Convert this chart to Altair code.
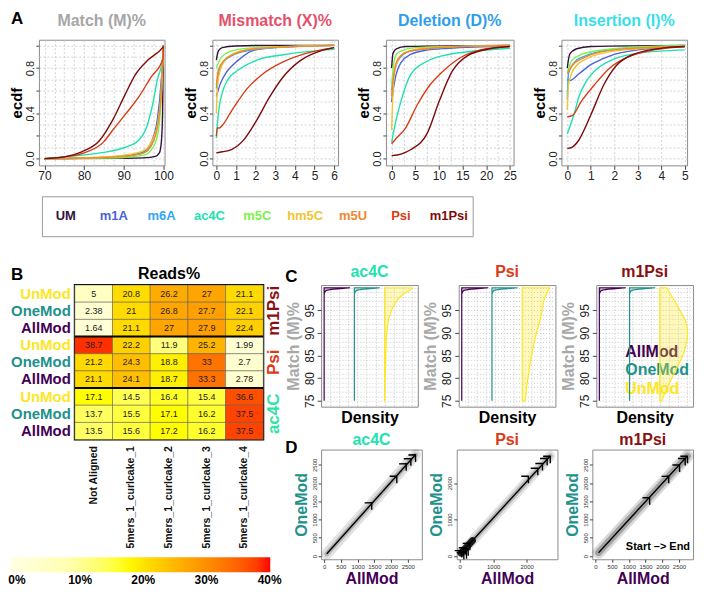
import json
import altair as alt
import pandas as pd

FONT = "Liberation Sans"

# ---------------- shared categories / colours ----------------
mods = ["UM", "m1A", "m6A", "ac4C", "m5C", "hm5C", "m5U", "Psi", "m1Psi"]
mod_colors = ["#30123b", "#4a64d9", "#33a6f4", "#1de2b0", "#7cf24a", "#f0c530", "#f5862b", "#d93b17", "#7d0b0b"]

status = ["UnMod", "OneMod", "AllMod"]
status_colors = ["#fde725", "#21918c", "#440154"]

# ---------------- A: ECDF curves (x, ecdf) ----------------
match_x = {
    "UM": [70, 90, 95, 98, 99, 99.5, 99.8, 100],
    "m1A": [70, 85, 90, 95, 97, 98.5, 99.5, 100],
    "m6A": [70, 85, 90, 95, 97, 98.5, 99.5, 100],
    "ac4C": [70, 76, 84, 90.4, 93.7, 95.7, 97.3, 98.5, 99.8, 100],
    "m5C": [70, 85, 90, 95, 97, 98.5, 99.5, 100],
    "hm5C": [70, 85, 90, 95, 97, 98.5, 99.5, 100],
    "m5U": [70, 85, 90, 95, 97, 98.5, 99.5, 100],
    "Psi": [70, 75, 80, 85, 87.2, 90.4, 93.7, 96.9, 99.9, 100],
    "m1Psi": [70, 75, 79.4, 83.9, 87.2, 90.4, 92.9, 96.1, 99.8, 100],
}
match_y = {
    "UM": [0, 0.003, 0.006, 0.02, 0.05, 0.15, 0.4, 1.0],
    "m1A": [0, 0.01, 0.02, 0.06, 0.15, 0.35, 0.7, 1.0],
    "m6A": [0, 0.01, 0.02, 0.05, 0.12, 0.3, 0.65, 1.0],
    "ac4C": [0, 0.02, 0.05, 0.1, 0.16, 0.27, 0.48, 0.7, 0.87, 1.0],
    "m5C": [0, 0.005, 0.01, 0.03, 0.08, 0.2, 0.55, 1.0],
    "hm5C": [0, 0.015, 0.03, 0.07, 0.15, 0.3, 0.6, 1.0],
    "m5U": [0, 0.01, 0.02, 0.05, 0.12, 0.28, 0.6, 1.0],
    "Psi": [0, 0.015, 0.05, 0.15, 0.25, 0.39, 0.54, 0.72, 0.88, 1.0],
    "m1Psi": [0, 0.015, 0.06, 0.16, 0.34, 0.57, 0.74, 0.87, 0.98, 0.99],
}
mis_x = {
    "UM": [0, 0.1, 0.3, 1, 2, 6],
    "m1A": [0, 0.2, 0.5, 0.8, 1.26, 1.73, 2.5, 6],
    "m6A": [0, 0.15, 0.4, 0.8, 1.5, 3, 6],
    "ac4C": [0, 0.05, 0.15, 0.3, 0.6, 1.1, 2.06, 3.5, 6],
    "m5C": [0, 0.2, 0.5, 1, 2, 6],
    "hm5C": [0, 0.05, 0.15, 0.4, 0.8, 1.5, 3, 6],
    "m5U": [0, 0.1, 0.4, 1, 2, 6],
    "Psi": [0, 0.05, 0.15, 0.29, 0.77, 1.58, 2.38, 3.35, 4.48, 6],
    "m1Psi": [0, 0.3, 0.77, 1.42, 2.06, 2.7, 3.35, 4.31, 5.28, 6],
}
mis_y = {
    "UM": [0.87, 0.95, 0.98, 0.995, 0.999, 1.0],
    "m1A": [0.55, 0.66, 0.76, 0.82, 0.89, 0.945, 0.975, 1.0],
    "m6A": [0.62, 0.78, 0.86, 0.91, 0.95, 0.98, 1.0],
    "ac4C": [0.18, 0.3, 0.46, 0.58, 0.7, 0.78, 0.87, 0.92, 0.965],
    "m5C": [0.8, 0.88, 0.93, 0.96, 0.98, 1.0],
    "hm5C": [0.4, 0.62, 0.75, 0.86, 0.92, 0.96, 0.985, 1.0],
    "m5U": [0.65, 0.78, 0.87, 0.93, 0.97, 1.0],
    "Psi": [0.2, 0.27, 0.27, 0.29, 0.42, 0.62, 0.75, 0.85, 0.925, 0.98],
    "m1Psi": [0.05, 0.06, 0.08, 0.17, 0.34, 0.54, 0.71, 0.87, 0.95, 0.98],
}
del_x = {
    "UM": [0, 0.3, 1, 3, 25],
    "m1A": [0, 0.5, 1, 2, 4, 7, 12, 25],
    "m6A": [0, 0.5, 1, 2, 4, 10, 25],
    "ac4C": [0, 0.5, 1, 2, 4, 7.5, 12, 17.5, 25],
    "m5C": [0, 0.5, 1, 2, 5, 25],
    "hm5C": [0, 0.3, 0.7, 1.5, 3, 8, 25],
    "m5U": [0, 0.5, 1, 2, 4, 10, 25],
    "Psi": [0, 1, 2.8, 5.5, 8.1, 10.8, 14.1, 18.8, 25],
    "m1Psi": [0, 2, 4.1, 7.5, 10.1, 12.8, 16.1, 20.8, 25],
}
del_y = {
    "UM": [0.8, 0.93, 0.97, 0.99, 1.0],
    "m1A": [0.5, 0.65, 0.75, 0.85, 0.92, 0.955, 0.975, 0.995],
    "m6A": [0.6, 0.75, 0.83, 0.9, 0.95, 0.98, 1.0],
    "ac4C": [0.14, 0.25, 0.35, 0.51, 0.74, 0.86, 0.92, 0.95, 0.975],
    "m5C": [0.65, 0.85, 0.92, 0.95, 0.98, 1.0],
    "hm5C": [0.25, 0.6, 0.78, 0.88, 0.94, 0.98, 1.0],
    "m5U": [0.55, 0.75, 0.85, 0.91, 0.95, 0.98, 1.0],
    "Psi": [0.13, 0.18, 0.26, 0.48, 0.65, 0.77, 0.88, 0.96, 0.99],
    "m1Psi": [0.026, 0.04, 0.08, 0.22, 0.51, 0.77, 0.91, 0.97, 0.99],
}
ins_x = {
    "UM": [0, 0.1, 0.4, 1, 5],
    "m1A": [0, 0.1, 0.5, 1, 1.5, 2, 3, 5],
    "m6A": [0, 0.05, 0.3, 0.8, 1.5, 3, 5],
    "ac4C": [0, 0.3, 0.5, 0.8, 1.2, 2, 3, 5],
    "m5C": [0, 0.2, 0.6, 1.2, 2.5, 5],
    "hm5C": [0, 0.05, 0.3, 0.8, 1.5, 3, 5],
    "m5U": [0, 0.2, 0.6, 1.2, 2.5, 5],
    "Psi": [0, 0.21, 0.61, 1.15, 1.81, 2.61, 3.68, 5],
    "m1Psi": [0, 0.2, 0.48, 1.01, 1.55, 2.08, 2.88, 4.21, 5],
}
ins_y = {
    "UM": [0.8, 0.92, 0.97, 0.99, 1.0],
    "m1A": [0.7, 0.69, 0.75, 0.83, 0.88, 0.92, 0.96, 0.99],
    "m6A": [0.52, 0.75, 0.85, 0.91, 0.95, 0.98, 1.0],
    "ac4C": [0.22, 0.4, 0.55, 0.68, 0.78, 0.88, 0.93, 0.96],
    "m5C": [0.76, 0.87, 0.92, 0.95, 0.98, 1.0],
    "hm5C": [0.43, 0.65, 0.8, 0.88, 0.93, 0.97, 0.99],
    "m5U": [0.75, 0.82, 0.88, 0.93, 0.97, 0.99],
    "Psi": [0.37, 0.38, 0.51, 0.65, 0.8, 0.9, 0.96, 0.99],
    "m1Psi": [0.09, 0.1, 0.16, 0.39, 0.65, 0.82, 0.925, 0.98, 0.99],
}

# ---------------- B: reads % heat-map ----------------
hm_cols = ["Not Aligned", "5mers_1_curlcake_1", "5mers_1_curlcake_2",
           "5mers_1_curlcake_3", "5mers_1_curlcake_4"]
hm_groups = ["m1Psi", "Psi", "ac4C"]
hm_group_colors = ["#8b0f0f", "#dc3a17", "#2fe3a2"]
reads_m1Psi = [[5, 20.8, 26.2, 27, 21.1], [2.38, 21, 26.8, 27.7, 22.1], [1.64, 21.1, 27, 27.9, 22.4]]
reads_Psi = [[38.7, 22.2, 11.9, 25.2, 1.99], [21.2, 24.3, 18.8, 33, 2.7], [21.1, 24.1, 18.7, 33.3, 2.78]]
reads_ac4C = [[17.1, 14.5, 16.4, 15.4, 36.6], [13.7, 15.5, 17.1, 16.2, 37.5], [13.5, 15.6, 17.2, 16.2, 37.5]]
heat_stops = [-1.1, 8, 17, 27, 40.1]
heat_colors = ["#ffffe6", "#ffffb0", "#ffff00", "#ffa500", "#ff0000"]
heat_ticks = [0, 10, 20, 30, 40]

# ---------------- C: density of Match % (y, density offset) ----------------
dens_ac4C = {
    "AllMod": ([75, 98.5, 99.3, 99.7, 99.9, 100], [0, 0.0, 0.05, 0.3, 0.7, 0.86]),
    "OneMod": ([75, 98.5, 99.3, 99.7, 99.9, 100], [0, 0.0, 0.05, 0.3, 0.7, 0.84]),
    "UnMod": ([75, 80, 85, 90, 92.8, 95.7, 98.5, 99.8, 100], [0.01, 0.02, 0.04, 0.07, 0.13, 0.28, 0.6, 0.89, 0.9]),
}
dens_Psi = {
    "AllMod": ([75, 98.5, 99.3, 99.7, 99.9, 100], [0, 0.0, 0.05, 0.3, 0.7, 0.88]),
    "OneMod": ([75, 98.5, 99.3, 99.7, 99.9, 100], [0, 0.0, 0.05, 0.3, 0.7, 0.85]),
    "UnMod": ([75, 78, 81, 84, 87, 90, 92.6, 95, 97.6, 99.3, 100],
              [0.1, 0.15, 0.21, 0.28, 0.37, 0.47, 0.58, 0.66, 0.74, 0.86, 0.9]),
}
dens_m1Psi = {
    "AllMod": ([75, 98.5, 99.3, 99.7, 99.9, 100], [0, 0.0, 0.05, 0.3, 0.7, 0.88]),
    "OneMod": ([75, 98.5, 99.3, 99.7, 99.9, 100], [0, 0.0, 0.05, 0.3, 0.7, 0.85]),
    "UnMod": ([75, 77.7, 80, 82.8, 85, 87.5, 90, 92.5, 95, 97, 98.5, 100],
              [0.07, 0.23, 0.4, 0.6, 0.76, 0.87, 0.92, 0.86, 0.66, 0.5, 0.36, 0.23]),
}

# ---------------- D: AllMod vs OneMod trajectories ----------------
traj_ac4C = {"start": (80, 60), "end": (2730, 2776),
             "hx": [1420, 2170, 2450, 2590, 2730], "hy": [1460, 2190, 2530, 2670, 2776]}
traj_Psi = {"start": (60, 100), "end": (2704, 2741),
            "hx": [60, 120, 180, 250, 300, 200, 2050, 2330, 2470, 2610, 2704],
            "hy": [150, 100, 230, 200, 350, 120, 2190, 2410, 2540, 2680, 2741]}
traj_m1Psi = {"start": (95, 91), "end": (2752, 2741),
              "hx": [1620, 2190, 2514, 2682, 2752], "hy": [1600, 2187, 2500, 2677, 2741]}
psi_blob_x = [40, 380]
psi_blob_y = [80, 420]

one = pd.DataFrame({"k": [0]})


def cond(vals):
    return "indexof(%s, datum.value) >= 0" % json.dumps(vals)


def txt(text, x, y, size, color, align="center", baseline="alphabetic", angle=None, weight="bold"):
    kw = dict(text=text, fontSize=size, fontWeight=weight, color=color, align=align, baseline=baseline)
    if angle is not None:
        kw["angle"] = angle
    return alt.Chart(one).mark_text(**kw).encode(x=alt.value(x), y=alt.value(y))


def anchor(x1, x2, y1, y2):
    # invisible box that fixes the layout bounds of a panel
    return alt.Chart(one).mark_rect(opacity=0).encode(
        x=alt.value(x1), x2=alt.value(x2), y=alt.value(y1), y2=alt.value(y2))


def margin():
    return anchor(0, 1, 0, 1).properties(width=1, height=1, view=alt.ViewBackground(strokeOpacity=0))


# ================= A panels =================
ECDF_H = 126
ecdf_ydom = [-0.06, 1.05]
ecdf_ygrid = [0, 0.1, 0.2, 0.3, 0.4, 0.5, 0.6, 0.7, 0.8, 0.9, 1.0]
ecdf_ylabs = [0, 0.4, 0.8]
ecdf_yticks = [0, 0.2, 0.4, 0.6, 0.8, 1.0]


def ecdf_panel(title, tcolor, xs, ys, xdom, xgrid, xlabs, w, extra=()):
    rows = []
    for k, m in enumerate(mods):
        for a, b in zip(xs[m], ys[m]):
            rows.append({"mod": m, "k": k, "x": a, "y": b})
    df = pd.DataFrame(rows)
    xt = cond(xlabs)
    lines = alt.Chart(df).mark_line(interpolate="monotone", strokeWidth=1.4, clip=True).encode(
        x=alt.X("x:Q", scale=alt.Scale(domain=xdom, nice=False, zero=False),
                axis=alt.Axis(values=xgrid, format="d", labelExpr="%s ? datum.label : ''" % xt,
                              grid=True, gridDash=[2, 2], gridColor="#c8c8c8", gridWidth=0.8,
                              domain=False, tickSize=4, tickColor="#444",
                              tickOpacity={"condition": {"test": xt, "value": 1}, "value": 0},
                              labelFontSize=12, labelColor="#222", labelPadding=1,
                              labelOverlap=False, labelFlush=False, title=None)),
        y=alt.Y("y:Q", scale=alt.Scale(domain=ecdf_ydom, nice=False, zero=False),
                axis=alt.Axis(values=ecdf_ygrid, format=".1f",
                              labelExpr="%s ? datum.label : ''" % cond(ecdf_ylabs),
                              grid=True, gridDash=[2, 2], gridColor="#c8c8c8", gridWidth=0.8,
                              domain=False, tickSize=3, tickColor="#444",
                              tickOpacity={"condition": {"test": cond(ecdf_yticks), "value": 1}, "value": 0},
                              labelAngle=270, labelAlign="center", labelBaseline="bottom",
                              labelFontSize=11, labelColor="#222", labelPadding=0,
                              labelOverlap=False, labelFlush=False,
                              title="ecdf", titleFontSize=15, titleFontWeight="bold",
                              titleColor="black", titlePadding=0)),
        color=alt.Color("mod:N", scale=alt.Scale(domain=mods, range=mod_colors), legend=None),
    )
    layers = list(extra) + [lines, txt(title, w / 2, -14, 16, tcolor)]
    return alt.layer(*layers).properties(width=w, height=ECDF_H)


pA1 = ecdf_panel("Match (M)%", "#a6a6a6", match_x, match_y, [68.6, 100.3],
                 [70, 72.5, 75, 77.5, 80, 82.5, 85, 87.5, 90, 92.5, 95, 97.5, 100], [70, 80, 90, 100], 126,
                 extra=[anchor(-28, 0, -30, 144), txt("A", -28, -16, 17, "black", align="left")])
pA2 = ecdf_panel("Mismatch (X)%", "#e5506a", mis_x, mis_y, [-0.2, 6.2],
                 [0, 0.5, 1, 1.5, 2, 2.5, 3, 3.5, 4, 4.5, 5, 5.5, 6], [0, 1, 2, 3, 4, 5, 6], 126)
pA3 = ecdf_panel("Deletion (D)%", "#2f9eea", del_x, del_y, [-1.2, 25.8],
                 [0, 2.5, 5, 7.5, 10, 12.5, 15, 17.5, 20, 22.5, 25], [0, 5, 10, 15, 20, 25], 128)
pA4 = ecdf_panel("Insertion (I)%", "#38dfea", ins_x, ins_y, [-0.25, 5.1],
                 [0, 0.5, 1, 1.5, 2, 2.5, 3, 3.5, 4, 4.5, 5], [0, 1, 2, 3, 4, 5], 126)
rowA = alt.hconcat(margin(), alt.hconcat(pA1, pA2, pA3, pA4, spacing=48, bounds="flush"), spacing=0)

# ================= modification legend box =================
leg_df = pd.DataFrame({"mod": mods})
legend_box = alt.layer(
    anchor(-32, 0, -11, 57),
    alt.Chart(leg_df).mark_text(fontSize=13, fontWeight="bold", baseline="middle").encode(
        x=alt.X("mod:N", sort=mods, scale=alt.Scale(type="point", domain=mods, padding=0.5), axis=None),
        y=alt.value(20),
        color=alt.Color("mod:N", scale=alt.Scale(domain=mods, range=mod_colors), legend=None),
        text="mod:N"),
).properties(width=432, height=40, view=alt.ViewBackground(stroke="#9a9a9a", strokeWidth=1))
rowLegend = alt.hconcat(margin(), legend_box, spacing=0)

# ================= B heat-map =================
HM_W, HM_H = 189, 155
rowkeys = []
hrows = []
for g, mat in zip(hm_groups, [reads_m1Psi, reads_Psi, reads_ac4C]):
    for s, vals in zip(status, mat):
        key = g + "|" + s
        rowkeys.append(key)
        for c, v in zip(hm_cols, vals):
            hrows.append({"row": key, "status": s, "col": c, "val": v, "lab": "%g" % v})
hdf = pd.DataFrame(hrows)
ydef = dict(scale=alt.Scale(domain=rowkeys, paddingInner=0, paddingOuter=0), axis=None)
xscale = alt.Scale(domain=hm_cols, paddingInner=0, paddingOuter=0)

cells = alt.Chart(hdf).mark_rect(stroke="#555", strokeWidth=0.5).encode(
    x=alt.X("col:N", scale=xscale,
            axis=alt.Axis(labelAngle=270, labelAlign="right", labelBaseline="middle", labelFontSize=10.5,
                          labelFontWeight="bold", labelColor="#111", labelPadding=6, ticks=False,
                          domain=False, title=None)),
    y=alt.Y("row:N", **ydef),
    color=alt.Color("val:Q", scale=alt.Scale(domain=heat_stops, range=heat_colors),
                    legend=alt.Legend(orient="none", legendX=-65, legendY=273, direction="horizontal",
                                      gradientLength=261, gradientThickness=15, title=None,
                                      values=heat_ticks, labelExpr="datum.value + '%'",
                                      labelFontSize=12, labelFontWeight="bold", labelColor="black",
                                      labelAlign="center", labelOffset=3, padding=0,
                                      gradientStrokeWidth=0)),
)
cell_text = alt.Chart(hdf).mark_text(fontSize=9, color="#222").encode(
    x=alt.X("col:N", scale=xscale), y=alt.Y("row:N", **ydef), text="lab:N")
sep = alt.Chart(pd.DataFrame({"row": [rowkeys[3], rowkeys[6]]})).mark_rule(
    strokeWidth=2, color="black").encode(
    y=alt.Y("row:N", bandPosition=0, **ydef), x=alt.value(0), x2=alt.value(HM_W))
lab_df = pd.DataFrame({"row": rowkeys, "status": [k.split("|")[1] for k in rowkeys]})
row_labels = alt.Chart(lab_df).mark_text(fontSize=15, fontWeight="bold", align="right",
                                         baseline="middle").encode(
    x=alt.value(-4), y=alt.Y("row:N", **ydef), text="status:N",
    color=alt.Color("status:N", scale=alt.Scale(domain=status, range=status_colors), legend=None))
grp_df = pd.DataFrame({"row": [rowkeys[1], rowkeys[4], rowkeys[7]], "grp": hm_groups})
grp_labels = alt.Chart(grp_df).mark_text(fontSize=17, fontWeight="bold", angle=270,
                                         baseline="middle", align="center").encode(
    x=alt.value(HM_W + 11), y=alt.Y("row:N", **ydef), text="grp:N",
    color=alt.Color("grp:N", scale=alt.Scale(domain=hm_groups, range=hm_group_colors), legend=None))
heat = alt.layer(
    anchor(-64, 209, -30, 285), cells, cell_text, sep, row_labels, grp_labels,
    txt("Reads%", HM_W / 2, -6, 16, "black"),
    txt("B", -64, -5, 17, "black", align="left"),
).resolve_scale(color="independent").properties(
    width=HM_W, height=HM_H, view=alt.ViewBackground(stroke="black", strokeWidth=2))

# ================= C density panels =================
C_W, C_H = 97, 122
dgroups = ["AllMod", "OneMod", "UnMod"]
dcolors = ["#440154", "#21918c", "#fde725"]


def density_panel(title, tcolor, dens, extra=()):
    rows = []
    for gi, g in enumerate(dgroups):
        ys, ds = dens[g]
        for yv, dv in zip(ys, ds):
            rows.append({"g": g, "base": gi, "m": yv, "xv": gi + dv})
    df = pd.DataFrame(rows)
    area = alt.Chart(df).mark_area(orient="horizontal", interpolate="monotone", fillOpacity=0.3,
                                   strokeWidth=1.2).encode(
        y=alt.Y("m:Q", scale=alt.Scale(domain=[73.7, 100.6], nice=False, zero=False),
                axis=alt.Axis(values=list(range(74, 101)),
                              labelExpr="%s ? datum.label : ''" % cond([75, 80, 85, 90, 95]),
                              tickOpacity={"condition": {"test": cond([75, 80, 85, 90, 95]), "value": 1}, "value": 0},
                              grid=True, gridDash=[1, 2], gridColor="#bdbdbd", gridWidth=0.8,
                              domain=False, tickSize=4, tickColor="#444",
                              labelAngle=270, labelAlign="center", labelBaseline="bottom",
                              labelFontSize=12, labelColor="#222", labelPadding=1,
                              labelOverlap=False, labelFlush=False,
                              title="Match (M)%", titleColor="#a8a8a8", titleFontSize=16,
                              titleFontWeight="bold", titlePadding=2)),
        x=alt.X("xv:Q", stack=False, scale=alt.Scale(domain=[-0.1, 3.1], nice=False, zero=False),
                axis=alt.Axis(values=[0.2, 0.5, 0.8, 1.1, 1.4, 1.7, 2.0, 2.3, 2.6, 2.9],
                              labels=False, ticks=False, domain=False, grid=True, gridDash=[1, 2],
                              gridColor="#bdbdbd", gridWidth=0.8, title="Density", titleColor="black",
                              titleFontSize=16, titleFontWeight="bold", titlePadding=3)),
        x2="base:Q",
        fill=alt.Fill("g:N", scale=alt.Scale(domain=dgroups, range=dcolors), legend=None),
        stroke=alt.Stroke("g:N", scale=alt.Scale(domain=dgroups, range=dcolors), legend=None),
    )
    layers = list(extra) + [area, txt(title, C_W / 2, -8, 16, tcolor)]
    return alt.layer(*layers).properties(width=C_W, height=C_H)


C1 = density_panel("ac4C", "#22e3ae", dens_ac4C,
                   extra=[anchor(-36, 0, -30, 144), txt("C", -36, -3, 17, "black", align="left")])
C2 = density_panel("Psi", "#dc3a17", dens_Psi)
C3 = density_panel("m1Psi", "#8b0f0f", dens_m1Psi,
                   extra=[txt("AllMod", 29, 67, 16, dcolors[0], align="left", baseline="middle"),
                          txt("OneMod", 29, 85, 16, dcolors[1], align="left", baseline="middle"),
                          txt("UnMod", 29, 104, 16, dcolors[2], align="left", baseline="middle")])
rowC = alt.hconcat(C1, C2, C3, spacing=41, bounds="flush")

# ================= D trajectory panels =================
D_W, D_H = 101, 110
dxy = [-90, 2920]
d_ticks = [0, 500, 1000, 1500, 2000, 2500]
CHEVRON = "M-1,-1L0,0L-1,1"


def traj_panel(title, tcolor, tr, bands, extra=()):
    seg = pd.DataFrame({"x": [tr["start"][0], tr["end"][0]], "y": [tr["start"][1], tr["end"][1]]})
    heads = pd.DataFrame({"x": tr["hx"], "y": tr["hy"]})
    xenc = alt.X("x:Q", scale=alt.Scale(domain=dxy, nice=False, zero=False),
                 axis=alt.Axis(values=d_ticks, format="d", labelFontSize=6, labelColor="#333", tickSize=3,
                               tickColor="#444", labelPadding=1, domain=False, grid=False,
                               labelOverlap=False, labelFlush=False,
                               title="AllMod", titleColor="#440154", titleFontSize=16,
                               titleFontWeight="bold", titlePadding=1))
    yenc = alt.Y("y:Q", scale=alt.Scale(domain=dxy, nice=False, zero=False),
                 axis=alt.Axis(values=d_ticks, format="d", labelFontSize=6, labelColor="#333", tickSize=3,
                               tickColor="#444", labelPadding=1, domain=False, grid=False,
                               labelAngle=270, labelAlign="center", labelBaseline="bottom",
                               labelOverlap=False, labelFlush=False,
                               title="OneMod", titleColor="#21918c", titleFontSize=16,
                               titleFontWeight="bold", titlePadding=2))
    layers = list(extra)
    for bw, op in bands:
        layers.append(alt.Chart(seg).mark_line(color="black", strokeWidth=bw, opacity=op,
                                               strokeCap="round").encode(x=xenc, y=yenc))
    layers.append(alt.Chart(seg).mark_line(color="black", strokeWidth=1.4).encode(x=xenc, y=yenc))
    layers.append(alt.Chart(heads).mark_point(shape=CHEVRON, filled=False, size=100, strokeWidth=1.4,
                                              color="black", opacity=1, angle=314).encode(x=xenc, y=yenc))
    layers.append(txt(title, D_W / 2, -5, 16, tcolor))
    return alt.layer(*layers).properties(width=D_W, height=D_H)


blob = alt.Chart(pd.DataFrame({"x": psi_blob_x, "y": psi_blob_y})).mark_line(
    color="black", strokeWidth=7, opacity=0.85, strokeCap="round").encode(
    x=alt.X("x:Q", scale=alt.Scale(domain=dxy, nice=False, zero=False)),
    y=alt.Y("y:Q", scale=alt.Scale(domain=dxy, nice=False, zero=False)))

D1 = traj_panel("ac4C", "#22e3ae", traj_ac4C, [(11, 0.12), (5, 0.2)],
                extra=[anchor(-36, 0, -19, 0), txt("D", -36, 3, 17, "black", align="left")])
D2 = traj_panel("Psi", "#dc3a17", traj_Psi, [(10, 0.12), (5, 0.2)], extra=[blob])
D3 = traj_panel("m1Psi", "#8b0f0f", traj_m1Psi, [(12, 0.15), (7, 0.25)],
                extra=[txt("Start \u2013> End", D_W - 3, 98, 11, "black", align="right", baseline="middle")])
rowD = alt.hconcat(D1, D2, D3, spacing=35, bounds="flush")

right = alt.vconcat(rowC, rowD, spacing=0)
rowBottom = alt.hconcat(margin(), heat, right, spacing=0)

chart = alt.vconcat(rowA, rowLegend, rowBottom, spacing=0).properties(padding=0).configure_view(
    stroke="#8c8c8c", strokeWidth=1
).configure_axis(labelFont=FONT, titleFont=FONT).configure_text(font=FONT).configure_legend(
    labelFont=FONT)

chart.save("out.html", embed_options={"renderer": "svg", "actions": False})
